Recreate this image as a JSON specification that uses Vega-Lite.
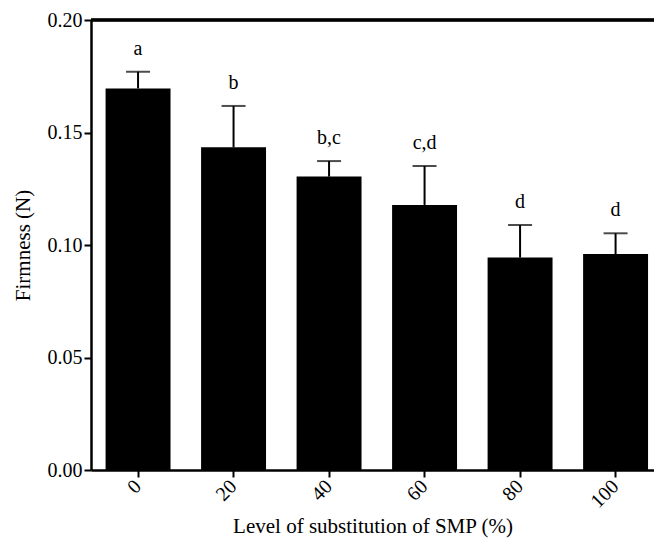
{
  "$schema": "https://vega.github.io/schema/vega-lite/v6.json",
  "autosize": "none",
  "width": 563,
  "height": 450,
  "padding": {"left": 91, "top": 20, "right": 0, "bottom": 70},
  "config": {
    "view": {"stroke": null},
    "font": "Liberation Serif",
    "axis": {
      "labelFont": "Liberation Serif",
      "titleFont": "Liberation Serif",
      "labelColor": "black",
      "titleColor": "black",
      "domainColor": "black",
      "tickColor": "black",
      "titleFontWeight": "normal",
      "grid": false
    }
  },
  "data": {
    "values": [
      {"Level": "0", "Firmness": 0.1696, "Upper": 0.1770, "Group": "a"},
      {"Level": "20", "Firmness": 0.1434, "Upper": 0.1618, "Group": "b"},
      {"Level": "40", "Firmness": 0.1304, "Upper": 0.1373, "Group": "b,c"},
      {"Level": "60", "Firmness": 0.1178, "Upper": 0.1351, "Group": "c,d"},
      {"Level": "80", "Firmness": 0.0944, "Upper": 0.1089, "Group": "d"},
      {"Level": "100", "Firmness": 0.0960, "Upper": 0.1052, "Group": "d"}
    ]
  },
  "layer": [
    {
      "mark": {"type": "bar", "color": "black"},
      "encoding": {
        "x": {
          "field": "Level",
          "type": "ordinal",
          "sort": null,
          "scale": {"paddingInner": 0.32, "paddingOuter": 0.1075, "align": 0.71},
          "axis": {
            "title": "Level of substitution of  SMP (%)",
            "titleFont": "Liberation Serif",
            "titleFontSize": 21,
            "titlePadding": 4,
            "labelFont": "Liberation Serif",
            "labelAngle": -45,
            "labelAlign": "right",
            "labelBaseline": "middle",
            "labelFontSize": 20,
            "labelPadding": 6,
            "tickSize": 7,
            "tickWidth": 2,
            "domainWidth": 2.5
          }
        },
        "y": {
          "field": "Firmness",
          "type": "quantitative",
          "scale": {"domain": [0, 0.2], "nice": false},
          "axis": {
            "title": "Firmness (N)",
            "titleFont": "Liberation Serif",
            "titleFontSize": 21,
            "titlePadding": 14,
            "labelFont": "Liberation Serif",
            "values": [0, 0.05, 0.1, 0.15, 0.2],
            "format": ".2f",
            "labelFontSize": 20,
            "labelPadding": 2,
            "tickSize": 7,
            "tickWidth": 2,
            "domainWidth": 2.5
          }
        }
      }
    },
    {
      "mark": {"type": "rule", "color": "black", "strokeWidth": 2},
      "encoding": {
        "x": {"field": "Level", "type": "ordinal", "sort": null},
        "y": {"field": "Firmness", "type": "quantitative"},
        "y2": {"field": "Upper"}
      }
    },
    {
      "mark": {"type": "tick", "color": "black", "size": 24, "thickness": 2, "orient": "horizontal"},
      "encoding": {
        "x": {"field": "Level", "type": "ordinal", "sort": null},
        "y": {"field": "Upper", "type": "quantitative"}
      }
    },
    {
      "mark": {"type": "text", "color": "black", "fontSize": 20, "font": "Liberation Serif", "baseline": "alphabetic", "dy": -17},
      "encoding": {
        "x": {"field": "Level", "type": "ordinal", "sort": null},
        "y": {"field": "Upper", "type": "quantitative"},
        "text": {"field": "Group"}
      }
    },
    {
      "mark": {"type": "rule", "color": "black", "strokeWidth": 2.5},
      "encoding": {
        "y": {"datum": 0.2}
      }
    }
  ]
}
